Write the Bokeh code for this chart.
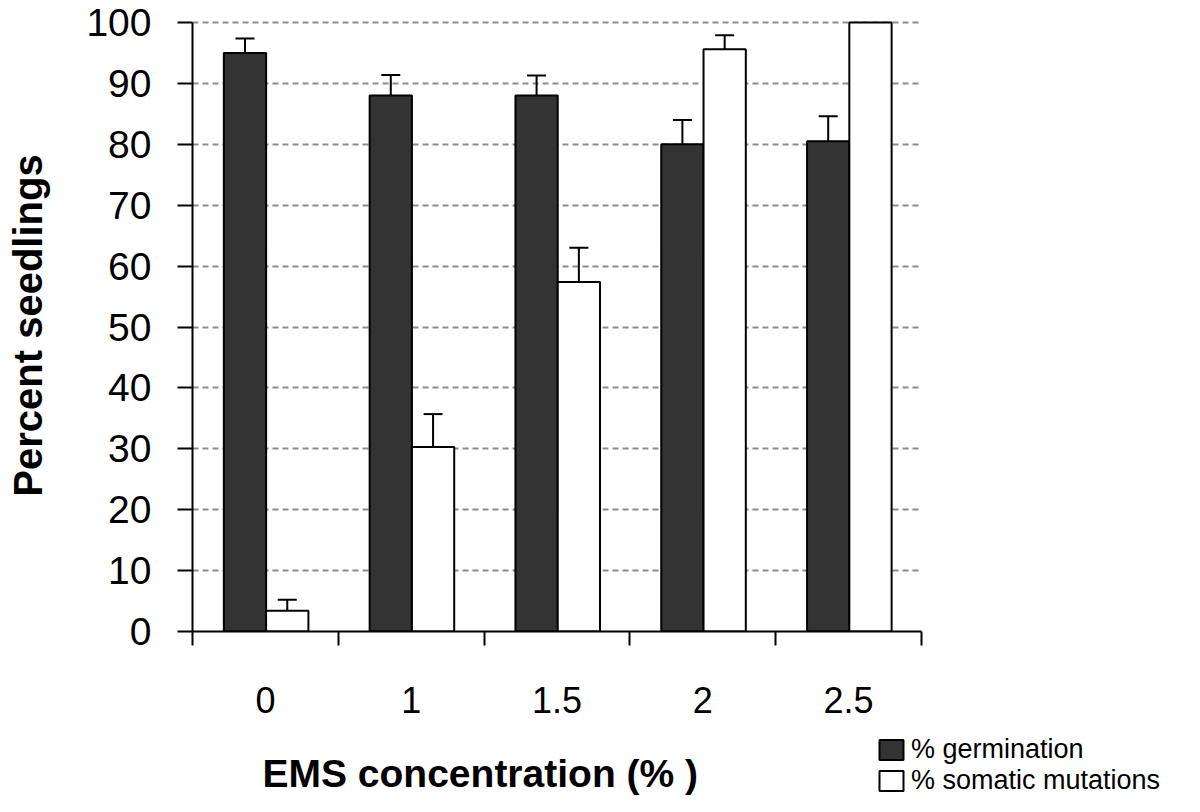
from bokeh.plotting import figure
from bokeh.layouts import column
from bokeh.models import (ColumnDataSource, FixedTicker, Whisker, TeeHead, Legend,
                          LegendItem, Label, Range1d)
from bokeh.embed import file_html
from bokeh.resources import INLINE
from bokeh.transform import dodge

# ---- data ----
categories = ["0", "1", "1.5", "2", "2.5"]
germination = [95.0, 88.0, 88.0, 80.0, 80.5]
germination_err = [2.4, 3.4, 3.3, 4.0, 4.1]
somatic = [3.4, 30.3, 57.4, 95.6, 100.0]
somatic_err = [1.8, 5.4, 5.6, 2.3, None]
y_ticks = [0, 10, 20, 30, 40, 50, 60, 70, 80, 90, 100]
series_names = ["% germination", "% somatic mutations"]
x_title = "EMS concentration (% )"
y_title = "Percent seedlings"

FONT = "Liberation Sans"
GERM_STYLE = dict(fill_color="#333333", line_color="black", line_width=2)
SOM_STYLE = dict(fill_color="white", line_color="black", line_width=2)

xpos = [i + 0.5 for i in range(len(categories))]
bounds = [float(i) for i in range(len(categories) + 1)]

src = ColumnDataSource(dict(x=xpos, germ=germination, som=somatic))

g_rows = [(x, v, v + e) for x, v, e in zip(xpos, germination, germination_err) if e is not None]
s_rows = [(x, v, v + e) for x, v, e in zip(xpos, somatic, somatic_err) if e is not None]
g_err_src = ColumnDataSource(dict(x=[r[0] for r in g_rows], lo=[r[1] for r in g_rows], hi=[r[2] for r in g_rows]))
s_err_src = ColumnDataSource(dict(x=[r[0] for r in s_rows], lo=[r[1] for r in s_rows], hi=[r[2] for r in s_rows]))

# ---------------- main chart ----------------
p = figure(width=1184, height=725, x_range=Range1d(0, 5), y_range=Range1d(0, 100.5),
           output_backend="svg", toolbar_location=None,
           min_border_left=192, min_border_right=263, min_border_top=19, min_border_bottom=94)
p.outline_line_color = None
p.background_fill_color = "white"
p.xgrid.visible = False

p.ygrid.ticker = FixedTicker(ticks=y_ticks[1:])
p.ygrid.grid_line_color = "#8c8c8c"
p.ygrid.grid_line_dash = "6 4"
p.ygrid.grid_line_width = 2

W = 0.29
r1 = p.vbar(x=dodge("x", -0.14), top="germ", width=W, source=src, **GERM_STYLE)
r2 = p.vbar(x=dodge("x", 0.15), top="som", width=W, source=src, **SOM_STYLE)

for es, off in ((g_err_src, -0.14), (s_err_src, 0.15)):
    w = Whisker(source=es, base=dodge("x", off), lower="lo", upper="hi", dimension="height",
                line_width=2, line_color="black", lower_head=None,
                upper_head=TeeHead(size=19, line_width=2, line_color="black"))
    w.level = "overlay"
    p.add_layout(w)

# y axis
ya = p.yaxis[0]
ya.ticker = FixedTicker(ticks=y_ticks, minor_ticks=[])
ya.bounds = (0, 100)
ya.axis_line_width = 2
ya.axis_line_color = "black"
ya.major_tick_line_width = 2
ya.major_tick_line_color = "black"
ya.major_tick_out = 15
ya.major_tick_in = 0
ya.minor_tick_line_color = None
ya.major_label_text_font = FONT
ya.major_label_text_font_size = "39px"
ya.major_label_text_color = "black"
ya.major_label_standoff = 26
ya.axis_label = y_title
ya.axis_label_text_font = FONT
ya.axis_label_text_font_style = "bold"
ya.axis_label_text_font_size = "40px"
ya.axis_label_text_color = "black"
ya.axis_label_standoff = 33

# x axis: category labels at centres, tick marks at category boundaries
xa = p.xaxis[0]
xa.ticker = FixedTicker(ticks=xpos, minor_ticks=bounds)
xa.bounds = (0, 5)
xa.axis_line_width = 2
xa.axis_line_color = "black"
xa.major_tick_out = 0
xa.major_tick_in = 0
xa.minor_tick_out = 14
xa.minor_tick_in = 0
xa.minor_tick_line_width = 2
xa.minor_tick_line_color = "black"
xa.major_label_overrides = {x: c for x, c in zip(xpos, categories)}
xa.major_label_text_font = FONT
xa.major_label_text_font_size = "36px"
xa.major_label_text_color = "black"
xa.major_label_standoff = 41

# ---------------- strip below: x title + legend ----------------
q = figure(width=1184, height=71, x_range=Range1d(0, 1), y_range=Range1d(0, 1),
           output_backend="svg", toolbar_location=None,
           x_axis_location=None, y_axis_location=None,
           min_border_left=0, min_border_right=0, min_border_top=0, min_border_bottom=0)
if "frame_align" in q.properties():
    q.frame_align = False
q.outline_line_color = None
q.grid.visible = False
# hidden twins of the bar renderers, used only for the legend swatches
d1 = q.vbar(x="x", top="germ", width=W, source=src, visible=False, **GERM_STYLE)
d2 = q.vbar(x="x", top="som", width=W, source=src, visible=False, **SOM_STYLE)

q.add_layout(Label(x=262, y=23, x_units="screen", y_units="screen", text=x_title,
                   text_font=FONT, text_font_style="bold", text_font_size="39px",
                   text_color="black", text_align="left", text_baseline="middle"))

legend = Legend(items=[LegendItem(label=series_names[0], renderers=[d1]),
                       LegendItem(label=series_names[1], renderers=[d2])],
                location=(876, 0), border_line_color=None, background_fill_alpha=0,
                padding=0, margin=0, spacing=0, glyph_width=30, glyph_height=25,
                label_standoff=5, label_text_font=FONT, label_text_font_size="27px",
                label_text_color="black", inactive_fill_alpha=0)
q.add_layout(legend, "center")

layout = column(p, q, spacing=0)
open("out.html", "w").write(file_html(layout, INLINE))
